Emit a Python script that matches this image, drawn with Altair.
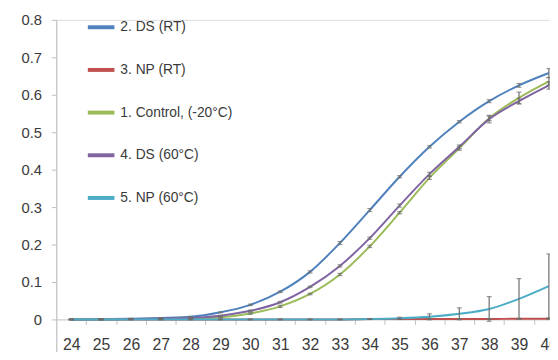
import altair as alt
import pandas as pd

cycles = list(range(24, 41))
series_names = ["2. DS (RT)", "3. NP (RT)", "1. Control, (-20°C)", "4. DS (60°C)", "5. NP (60°C)"]
series_colors = ["#4F81BD", "#C0504D", "#9BBB59", "#8064A2", "#4BACC6"]

ds_rt = [0.0, 0.001, 0.002, 0.004, 0.007, 0.019, 0.039, 0.074, 0.127, 0.204, 0.292, 0.381, 0.461, 0.528, 0.583, 0.625, 0.658]
np_rt = [0.0, 0.0, 0.0, 0.0, 0.0, 0.0, 0.0, 0.0, 0.0, 0.0, 0.001, 0.001, 0.001, 0.001, 0.001, 0.002, 0.002]
control = [0.0, 0.0, 0.001, 0.001, 0.003, 0.006, 0.016, 0.035, 0.068, 0.120, 0.195, 0.285, 0.378, 0.457, 0.537, 0.592, 0.636]
ds_60 = [0.0, 0.0, 0.001, 0.002, 0.004, 0.010, 0.023, 0.046, 0.087, 0.143, 0.217, 0.304, 0.388, 0.461, 0.535, 0.583, 0.625]
np_60 = [0.0, 0.0, 0.0, 0.0, 0.0, 0.0, 0.0, 0.0, 0.0, 0.0, 0.001, 0.003, 0.007, 0.015, 0.028, 0.055, 0.089]

ds_rt_err = [0.001, 0.001, 0.001, 0.001, 0.001, 0.001, 0.002, 0.002, 0.003, 0.004, 0.004, 0.003, 0.003, 0.003, 0.004, 0.005, 0.012]
np_rt_err = [0.001, 0.001, 0.001, 0.001, 0.001, 0.001, 0.001, 0.001, 0.001, 0.001, 0.001, 0.001, 0.001, 0.001, 0.001, 0.001, 0.002]
control_err = [0.001, 0.001, 0.001, 0.001, 0.001, 0.001, 0.002, 0.003, 0.002, 0.003, 0.003, 0.003, 0.004, 0.005, 0.006, 0.015, 0.010]
ds_60_err = [0.001, 0.001, 0.001, 0.001, 0.001, 0.001, 0.002, 0.002, 0.002, 0.003, 0.003, 0.004, 0.005, 0.005, 0.010, 0.008, 0.010]
np_60_err = [0.0, 0.0, 0.0, 0.0, 0.0, 0.0, 0.0, 0.0, 0.0, 0.0, 0.001, 0.003, 0.008, 0.016, 0.033, 0.054, 0.086]

y_ticks = [-0.1, 0.0, 0.1, 0.2, 0.3, 0.4, 0.5, 0.6, 0.7, 0.8]

all_vals = [ds_rt, np_rt, control, ds_60, np_60]
all_errs = [ds_rt_err, np_rt_err, control_err, ds_60_err, np_60_err]

rows = []
for name, vals, errs in zip(series_names, all_vals, all_errs):
    for c, v, e in zip(cycles, vals, errs):
        rows.append({"series": name, "cycle": c, "value": v, "lo": v - e, "hi": v + e})
df = pd.DataFrame(rows)

FONT = "Liberation Sans"
AXIS_GRAY = "#BFBFBF"
TEXT = "#3A3A3A"
ERR = "#6E6E6E"

x_scale = alt.Scale(domain=[23.5, 40.5], nice=False, zero=False)
y_scale = alt.Scale(domain=[-0.1, 0.8], nice=False, zero=False)

x_axis = alt.Axis(
    values=cycles, title=None, grid=False, offset=-38,
    tickOffset=15.15, labelOffset=-15.15, tickSize=5, labelPadding=13,
    labelFont=FONT, labelFontSize=16, labelColor=TEXT,
    domainColor=AXIS_GRAY, tickColor=AXIS_GRAY,
    labelFlush=False, labelOverlap=False,
)
y_axis = alt.Axis(
    values=y_ticks, title=None, grid=False, tickSize=5, labelPadding=10,
    labelFont=FONT, labelFontSize=15, labelColor=TEXT,
    domainColor=AXIS_GRAY, tickColor=AXIS_GRAY, labelOverlap=False,
    labelExpr="datum.value == 0 ? '0' : (datum.value < 0 ? '-' + format(-datum.value, '.1f') : format(datum.value, '.1f'))",
)

base = alt.Chart(df)

lines = base.mark_line(strokeWidth=2, interpolate="monotone").encode(
    x=alt.X("cycle:Q", scale=x_scale, axis=x_axis),
    y=alt.Y("value:Q", scale=y_scale, axis=y_axis),
    color=alt.Color(
        "series:N",
        sort=series_names,
        scale=alt.Scale(domain=series_names, range=series_colors),
        legend=alt.Legend(
            title=None, orient="none", legendX=30, legendY=-8,
            symbolType="stroke", symbolSize=729, symbolStrokeWidth=4,
            rowPadding=19.3, labelOffset=4, padding=0,
            labelFont=FONT, labelFontSize=14, labelColor=TEXT, labelLimit=300,
        ),
    ),
)

err_rules = base.mark_rule(color=ERR, strokeWidth=1.2).encode(
    x=alt.X("cycle:Q", scale=x_scale, axis=x_axis),
    y=alt.Y("lo:Q", scale=y_scale, axis=y_axis),
    y2="hi:Q",
)
caps_hi = base.mark_tick(color=ERR, orient="horizontal", size=5, thickness=1.2).encode(
    x=alt.X("cycle:Q", scale=x_scale, axis=x_axis),
    y=alt.Y("hi:Q", scale=y_scale, axis=y_axis),
)
caps_lo = base.mark_tick(color=ERR, orient="horizontal", size=5, thickness=1.2).encode(
    x=alt.X("cycle:Q", scale=x_scale, axis=x_axis),
    y=alt.Y("lo:Q", scale=y_scale, axis=y_axis),
)

chart = alt.layer(lines, err_rules, caps_hi, caps_lo).properties(
    width=515, height=342,
    autosize=alt.AutoSizeParams(type="none"),
    padding={"left": 49, "top": 9.5, "right": -14, "bottom": -7.5},
).configure_view(stroke=None).configure_axis(
    labelOverlap=False, labelFlush=False
).configure(background="white")

chart.save("out.html", embed_options={"renderer": "svg", "actions": False})
